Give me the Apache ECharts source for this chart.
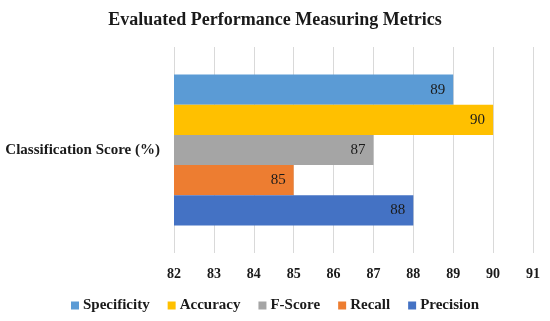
<!DOCTYPE html>
<html>
<head>
<meta charset="utf-8">
<script src="https://cdn.jsdelivr.net/npm/echarts@6/dist/echarts.min.js"></script>
<style>html,body{margin:0;padding:0;background:#fff}#c{width:550px;height:321px}</style>
</head>
<body>
<div id="c"></div>
<script>
var categories = ['Classification Score (%)'];
var seriesNames = ['Specificity', 'Accuracy', 'F-Score', 'Recall', 'Precision'];
var seriesValues = [[89], [90], [87], [85], [88]];
var seriesColors = ['#5B9BD5', '#FFC000', '#A5A5A5', '#ED7D31', '#4472C4'];
var xTicks = [82, 83, 84, 85, 86, 87, 88, 89, 90, 91];

var font = '"Liberation Serif", serif';
var chart = echarts.init(document.getElementById('c'));
chart.setOption({
  animation: false,
  title: {
    text: 'Evaluated Performance Measuring Metrics',
    left: 'center', top: 6,
    textStyle: {fontFamily: font, fontWeight: 'bold', fontSize: 18, color: '#1a1a1a'}
  },
  legend: {
    data: seriesNames,
    bottom: 3, left: 'center',
    itemWidth: 8, itemHeight: 8, itemGap: 18,
    icon: 'rect',
    textStyle: {fontFamily: font, fontWeight: 'bold', fontSize: 15, color: '#1a1a1a', padding: [0, 0, 0, -1]}
  },
  grid: {left: 174, right: 17, top: 47, bottom: 68, containLabel: false},
  xAxis: {
    type: 'value', min: xTicks[0], max: xTicks[xTicks.length - 1], interval: 1,
    axisLine: {show: false}, axisTick: {show: false},
    splitLine: {lineStyle: {color: '#d9d9d9', width: 1}},
    axisLabel: {fontFamily: font, fontWeight: 'bold', fontSize: 14, color: '#1a1a1a', margin: 14}
  },
  yAxis: {
    type: 'category', data: categories, inverse: true,
    axisLine: {show: false}, axisTick: {show: false},
    axisLabel: {fontFamily: font, fontWeight: 'bold', fontSize: 15, color: '#1a1a1a', margin: 14}
  },
  series: seriesNames.map(function (n, i) {
    return {
      name: n, type: 'bar', data: seriesValues[i],
      barGap: '0%', barCategoryGap: '26.7%',
      itemStyle: {color: seriesColors[i]},
      label: {show: true, position: 'insideRight', distance: 8,
        fontFamily: font, fontSize: 15, color: '#1a1a1a'}
    };
  })
});
</script>
</body>
</html>
